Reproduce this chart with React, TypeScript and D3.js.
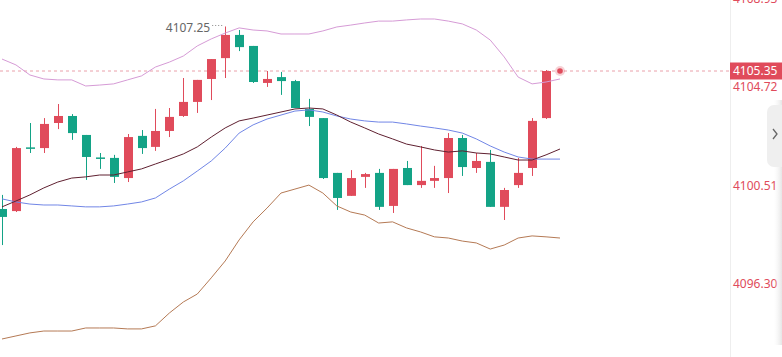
import React from 'react';
import * as d3 from 'd3';

// candle data, one entry per bar (open, high, low, close)
const opens = [4099.46, 4099.37, 4102.09, 4102.06, 4103.13, 4103.43, 4102.62, 4101.66, 4101.64, 4100.78,
  4102.58, 4102.11, 4102.79, 4103.43, 4104.03, 4105.01, 4105.90, 4106.89, 4106.42, 4104.84,
  4105.09, 4104.92, 4103.73, 4103.34, 4101.00, 4100.02, 4100.83, 4101.00, 4099.59, 4101.21,
  4100.48, 4100.66, 4100.78, 4102.49, 4101.21, 4101.47, 4099.55, 4100.48, 4101.21, 4103.34];
const highs = [4100.06, 4102.11, 4103.13, 4103.34, 4103.94, 4103.51, 4102.62, 4101.85, 4101.77, 4102.66,
  4102.83, 4103.73, 4103.77, 4105.05, 4104.97, 4105.86, 4107.25, 4107.10, 4106.42, 4105.35,
  4105.31, 4104.97, 4104.16, 4103.34, 4101.00, 4101.12, 4101.00, 4101.17, 4101.17, 4101.51,
  4102.15, 4101.30, 4102.70, 4102.62, 4101.85, 4101.98, 4100.36, 4101.64, 4103.34, 4105.39];
const lows = [4097.92, 4099.33, 4101.85, 4101.85, 4102.87, 4102.41, 4100.70, 4101.17, 4100.57, 4100.61,
  4101.81, 4101.94, 4102.53, 4103.39, 4103.56, 4104.11, 4105.05, 4106.20, 4104.84, 4104.67,
  4104.33, 4103.77, 4103.00, 4100.74, 4099.42, 4100.02, 4100.36, 4099.42, 4099.29, 4100.48,
  4100.36, 4100.36, 4100.14, 4100.87, 4101.00, 4099.55, 4098.99, 4100.36, 4100.87, 4103.30];
const closes = [4099.12, 4102.06, 4102.04, 4103.09, 4103.43, 4102.70, 4101.68, 4101.62, 4100.83, 4102.53,
  4102.06, 4102.79, 4103.39, 4104.03, 4104.97, 4105.86, 4106.89, 4106.37, 4104.88, 4105.01,
  4104.92, 4103.77, 4103.39, 4100.78, 4099.93, 4100.78, 4100.95, 4099.55, 4101.17, 4100.48,
  4100.66, 4100.78, 4102.49, 4101.25, 4101.51, 4099.55, 4100.27, 4101.00, 4103.22, 4105.35];

// indicator lines (41 points, the last one is the live bar)
const bollUpper = [4105.86, 4105.61, 4105.18, 4105.01, 4104.97, 4104.97, 4104.71, 4104.75, 4104.80, 4104.97,
  4105.14, 4105.52, 4105.73, 4105.99, 4106.42, 4106.72, 4106.97, 4107.19, 4107.10, 4107.06,
  4106.93, 4106.93, 4106.93, 4107.06, 4107.23, 4107.31, 4107.40, 4107.48, 4107.48, 4107.53,
  4107.57, 4107.57, 4107.48, 4107.36, 4107.10, 4106.67, 4105.95, 4105.09, 4104.80, 4104.88, 4105.01];
const maLine = [4099.55, 4099.80, 4100.06, 4100.36, 4100.61, 4100.78, 4100.83, 4100.91, 4100.91, 4101.04,
  4101.17, 4101.38, 4101.59, 4101.81, 4102.11, 4102.53, 4102.92, 4103.22, 4103.34, 4103.47,
  4103.60, 4103.73, 4103.77, 4103.73, 4103.47, 4103.17, 4102.92, 4102.66, 4102.45, 4102.23,
  4102.11, 4101.98, 4101.89, 4101.94, 4101.85, 4101.81, 4101.68, 4101.55, 4101.55, 4101.77, 4102.02];
const bollMid = [4099.89, 4099.76, 4099.67, 4099.63, 4099.63, 4099.59, 4099.55, 4099.55, 4099.59, 4099.67,
  4099.76, 4099.93, 4100.31, 4100.66, 4101.08, 4101.51, 4102.06, 4102.70, 4103.05, 4103.30,
  4103.47, 4103.64, 4103.69, 4103.60, 4103.43, 4103.30, 4103.22, 4103.17, 4103.17, 4103.09,
  4103.00, 4102.92, 4102.83, 4102.70, 4102.45, 4102.15, 4101.89, 4101.68, 4101.59, 4101.59, 4101.59];
const bollLower = [4093.91, 4094.04, 4094.17, 4094.25, 4094.25, 4094.25, 4094.38, 4094.38, 4094.38, 4094.34,
  4094.34, 4094.47, 4095.02, 4095.49, 4095.83, 4096.52, 4097.24, 4098.14, 4098.91, 4099.50,
  4100.14, 4100.31, 4100.48, 4100.14, 4099.59, 4099.33, 4099.20, 4098.86, 4098.91, 4098.65,
  4098.48, 4098.27, 4098.22, 4098.09, 4098.01, 4097.75, 4097.92, 4098.22, 4098.31, 4098.27, 4098.22];

const axisTicks = [4104.72, 4100.51, 4096.30];
const topTick = '4108.93';
const lastPrice = 4105.35;
const maxHigh = 4107.25;

const W = 782;
const H = 357;
const UP = '#e04b5b';
const DOWN = '#13a386';

export default function App() {
  const x = d3.scaleLinear().domain([0, 40]).range([2, 560]);
  const y = d3.scaleLinear().domain([4096.3, 4105.35]).range([283, 71]);
  const line = d3.line<number>().x((_, i) => x(i)).y((d) => y(d));
  const bodyW = 9;
  const axisX = 730;
  const maxIdx = highs.indexOf(d3.max(highs) as number);

  return (
    <svg width={W} height={H} style={{ position: 'absolute', left: 0, top: 0, background: '#fff' }}
      fontFamily="'Noto Sans', 'Open Sans', sans-serif">
      <defs>
        <linearGradient id="edge" x1="0" x2="1" y1="0" y2="0">
          <stop offset="0" stopColor="#f4f4f4" stopOpacity="0" />
          <stop offset="1" stopColor="#e6e6e6" stopOpacity="1" />
        </linearGradient>
      </defs>
      <rect x={0} y={0} width={W} height={H} fill="#fff" />

      {/* last price dashed line */}
      <line x1={0} x2={axisX} y1={y(lastPrice)} y2={y(lastPrice)} stroke="#eaa0aa" strokeDasharray="3,3" strokeWidth={1} />

      {/* candles */}
      {opens.map((o, i) => {
        const c = closes[i];
        const col = c >= o ? UP : DOWN;
        const top = y(Math.max(o, c));
        const bot = y(Math.min(o, c));
        const cx = Math.round(x(i)) + 0.5;
        return (
          <g key={i}>
            <line x1={cx} x2={cx} y1={y(highs[i])} y2={y(lows[i])} stroke={col} strokeWidth={1} />
            <rect x={cx - bodyW / 2} y={top} width={bodyW} height={Math.max(1.5, bot - top)} fill={col} />
          </g>
        );
      })}

      {/* indicator lines */}
      <path d={line(bollUpper) || ''} fill="none" stroke="#d69bd6" strokeWidth={1} />
      <path d={line(bollMid) || ''} fill="none" stroke="#7186e6" strokeWidth={1} />
      <path d={line(maLine) || ''} fill="none" stroke="#5f2030" strokeWidth={1} />
      <path d={line(bollLower) || ''} fill="none" stroke="#b57a55" strokeWidth={1} />

      {/* live price dot */}
      <circle cx={x(40)} cy={y(lastPrice)} r={5} fill={UP} opacity={0.25} />
      <circle cx={x(40)} cy={y(lastPrice)} r={2.8} fill={UP} />

      {/* max high label */}
      <text x={x(maxIdx) - 15} y={y(maxHigh) + 2} fontSize={12} fill="#666" textAnchor="end" dominantBaseline="middle">
        {maxHigh.toFixed(2)}
      </text>
      <line x1={x(maxIdx) - 13} x2={x(maxIdx) - 1} y1={y(maxHigh) - 1} y2={y(maxHigh) - 1} stroke="#888" strokeDasharray="1,2" />

      {/* right axis */}
      <line x1={axisX + 0.5} x2={axisX + 0.5} y1={0} y2={H} stroke="#eeeeee" />
      <text x={axisX + 3} y={3} fontSize={12} fill="#e04b5b">{topTick}</text>
      {axisTicks.map((t) => (
        <text key={t} x={axisX + 3} y={y(t) + 2} fontSize={12} fill="#e04b5b" dominantBaseline="middle">
          {t.toFixed(2)}
        </text>
      ))}
      <rect x={axisX} y={y(lastPrice) - 8.5} width={W - axisX} height={17} fill={UP} />
      <text x={axisX + 3} y={y(lastPrice) + 0.5} fontSize={12} fill="#fff" dominantBaseline="middle">
        {lastPrice.toFixed(2)}
      </text>

      {/* right edge shadow and expand button */}
      <rect x={774} y={100} width={8} height={245} fill="url(#edge)" />
      <rect x={767} y={105} width={30} height={62} rx={7} fill="#efefef" />
      <path d="M773,129 L777,134 L773,139" fill="none" stroke="#666" strokeWidth={1.3} />
    </svg>
  );
}
